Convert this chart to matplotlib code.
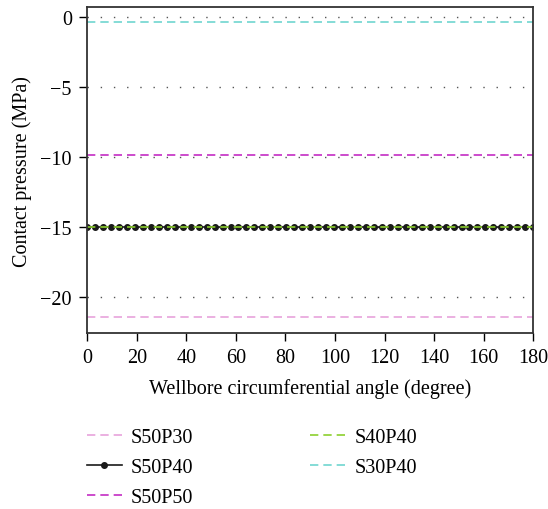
import numpy as np
import matplotlib
matplotlib.use("Agg")
import matplotlib.pyplot as plt

# wellbore angle positions (degree) and contact pressures (MPa)
angles = np.linspace(0, 180, 57)
series_names = ["S50P30", "S50P40", "S50P50", "S40P40", "S30P40"]
p_s50p30 = [-21.45] * len(angles)
p_s50p40 = [-15.0] * len(angles)
p_s50p50 = [-9.85] * len(angles)
p_s40p40 = [-15.0] * len(angles)
p_s30p40 = [-0.35] * len(angles)

plt.rcParams['font.family'] = ['Liberation Serif', 'DejaVu Serif']
plt.rcParams['font.size'] = 14.5

fig = plt.figure(figsize=(5.48, 5.10), dpi=100)
ax = fig.add_axes([0.159, 0.345, 0.814, 0.639])

dash = (0, (5, 3))
ax.plot(angles, p_s50p30, ls=dash, color="#e8a3dc", lw=1.2, label=series_names[0])
ax.plot(angles, p_s50p40, ls="-", color="#1a1a1a", lw=1.2, marker="o", ms=4,
        label=series_names[1])
ax.plot(angles, p_s50p50, ls=dash, color="#c42cc4", lw=1.2, label=series_names[2])
ax.plot(angles, p_s40p40, ls=dash, color="#8ccf2e", lw=1.2, label=series_names[3])
ax.plot(angles, p_s30p40, ls=dash, color="#6fd6d0", lw=1.2, label=series_names[4])

ax.set_xlim(0, 180)
ax.set_ylim(-22.6, 0.7)
ax.set_xticks(range(0, 181, 20))
ax.set_yticks([0, -5, -10, -15, -20])
ax.yaxis.grid(True, ls=(0, (1, 8.5)), color="#555555", lw=1.0)
ax.set_axisbelow(True)
ax.tick_params(direction="out", length=6, width=1, top=False, right=False, pad=5)
for s in ax.spines.values():
    s.set_linewidth(1.3)
    s.set_color("#333333")

ax.set_xlabel("Wellbore circumferential angle (degree)", labelpad=8)
ax.set_ylabel("Contact pressure (MPa)", labelpad=6)

handles, labels = ax.get_legend_handles_labels()
fig.legend(handles, labels, ncol=2, loc="upper left", bbox_to_anchor=(0.158, 0.159),
           frameon=False, handlelength=1.75, handletextpad=0.45, columnspacing=5.8,
           labelspacing=0.55, borderaxespad=0, borderpad=0)

fig.savefig("out.png", dpi=100)
